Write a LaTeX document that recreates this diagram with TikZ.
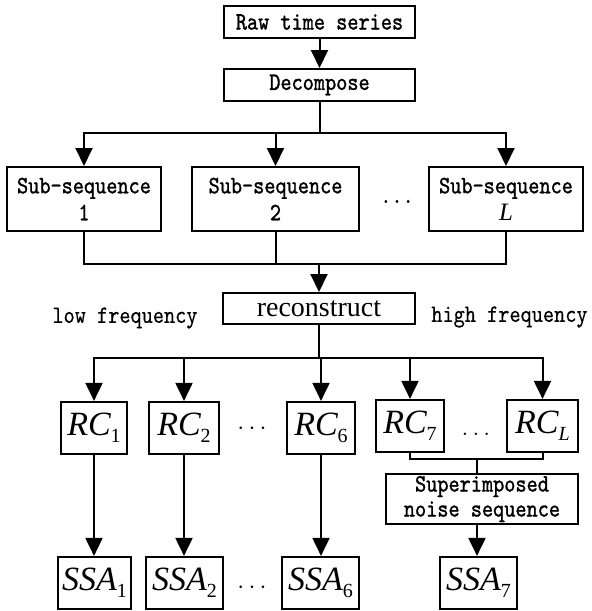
\documentclass[tikz,border=0pt]{standalone}
\usepackage{fontspec}
\setmainfont{Liberation Serif}
\newfontfamily\monob[FakeStretch=0.85,FakeBold=1.2]{lmmono10-regular.otf}
\newfontfamily\monol[FakeStretch=0.85,FakeBold=0.4]{lmmono10-regular.otf}
\usetikzlibrary{arrows.meta}
\begin{document}
\begin{tikzpicture}[x=1pt,y=-1pt,line width=2pt,
  arr/.style={-{Triangle[length=18pt,width=17pt]}},
  mbox/.style={draw,line width=2pt,inner sep=0pt,align=center,
    font=\monob\fontsize{25}{27}\selectfont},
  rbox/.style={draw,line width=2.2pt,inner sep=0pt,minimum height=52pt,
    font=\fontsize{34}{34}\selectfont},
  lbl/.style={font=\monol\fontsize{25}{27}\selectfont},
  dotsm/.style={anchor=base,inner sep=0pt,font=\fontsize{24}{24}\selectfont}
]
\newcommand{\rcsub}[2]{\itshape #1\raisebox{-7pt}{\fontsize{20}{20}\selectfont\upshape #2}}
\newcommand{\rcsubi}[2]{\itshape #1\raisebox{-7pt}{\fontsize{20}{20}\selectfont #2}}
\useasboundingbox (0,0) rectangle (592,611);

% top
\node[mbox,minimum width=191pt,minimum height=32pt] (raw) at (319.5,22) {Raw time series};
\node[mbox,minimum width=191pt,minimum height=32pt] (dec) at (319.5,85) {Decompose};

% sub-sequences
\node[mbox,minimum width=154pt,minimum height=64pt] (sub1) at (84,199) {Sub-sequence\\1};
\node[mbox,minimum width=167pt,minimum height=64pt] (sub2) at (275.5,199) {Sub-sequence\\2};
\node[mbox,minimum width=154pt,minimum height=64pt] (subL) at (506,199) {Sub-sequence\\{\normalfont\itshape L}};
\node[anchor=base,inner sep=0pt,font=\monol\fontsize{25}{27}\selectfont] (sdots) at (397,203) {...};

% reconstruct
\node[draw,line width=2pt,inner sep=0pt,minimum width=192pt,minimum height=31pt,
  font=\fontsize{28}{28}\selectfont] (rec) at (319,308.5) {reconstruct};
\node[lbl] (low) at (125,318) {low frequency};
\node[lbl] (high) at (509.5,317) {high frequency};

% RC boxes
\node[rbox,minimum width=66pt] (rc1) at (94,428) {\rcsub{RC}{1}};
\node[rbox,minimum width=70pt] (rc2) at (184,428) {\rcsub{RC}{2}};
\node[dotsm] (d1) at (252,434) {$\cdots$};
\node[rbox,minimum width=68pt] (rc6) at (321,428) {\rcsub{RC}{6}};
\node[rbox,minimum width=68pt] (rc7) at (410,426) {\rcsub{RC}{7}};
\node[dotsm] (d2) at (476,435) {$\ldots$};
\node[rbox,minimum width=71pt] (rcL) at (542.5,426) {\rcsubi{RC}{L}};

% superimposed
\node[draw,line width=1.3pt,inner sep=0pt,minimum width=192pt,minimum height=50pt,align=center,
  font=\monob\fontsize{25}{25}\selectfont] (sup) at (482,499) {Superimposed\\noise sequence};

% SSA boxes
\node[rbox,minimum width=73pt] (ssa1) at (94.5,583) {\rcsub{SSA}{1}};
\node[rbox,minimum width=77pt] (ssa2) at (184.5,583) {\rcsub{SSA}{2}};
\node[dotsm] (d3) at (252,593) {$\cdots$};
\node[rbox,minimum width=77pt] (ssa6) at (320.5,583) {\rcsub{SSA}{6}};
\node[rbox,minimum width=77pt] (ssa7) at (478.5,583) {\rcsub{SSA}{7}};

% helper coordinates
\coordinate (h1) at (0,133);
\coordinate (h2) at (0,264);
\coordinate (h3) at (0,358);
\coordinate (h4) at (0,459);
\coordinate (m) at (477,459);

% connectors
\draw[arr] (raw) -- (dec);
\draw (dec.south) -- (dec.south |- h1);
\draw[line cap=rect] (sub1.north |- h1) -- (subL.north |- h1);
\draw[arr] (sub1.north |- h1) -- (sub1.north);
\draw[arr] (sub2.north |- h1) -- (sub2.north);
\draw[arr] (subL.north |- h1) -- (subL.north);

\draw[line join=miter] (sub1.south) -- (sub1.south |- h2) -- (subL.south |- h2) -- (subL.south);
\draw (sub2.south) -- (sub2.south |- h2);
\draw[arr] (rec.north |- h2) -- (rec.north);

\draw (rec.south) -- (rec.south |- h3);
\draw[line cap=rect] (rc1.north |- h3) -- (rcL.north |- h3);
\draw[arr] (rc1.north |- h3) -- (rc1.north);
\draw[arr] (rc2.north |- h3) -- (rc2.north);
\draw[arr] (rc6.north |- h3) -- (rc6.north);
\draw[arr] (rc7.north |- h3) -- (rc7.north);
\draw[arr] (rcL.north |- h3) -- (rcL.north);

\draw[arr] (rc1.south) -- (rc1.south |- ssa1.north);
\draw[arr] (rc2.south) -- (rc2.south |- ssa2.north);
\draw[arr] (rc6.south) -- (rc6.south |- ssa6.north);

\draw[line join=miter] (rc7.south) -- (rc7.south |- h4) -- (rcL.south |- h4) -- (rcL.south);
\draw (m) -- (m |- sup.north);
\draw[arr] (m |- sup.south) -- (m |- ssa7.north);
\end{tikzpicture}
\end{document}
